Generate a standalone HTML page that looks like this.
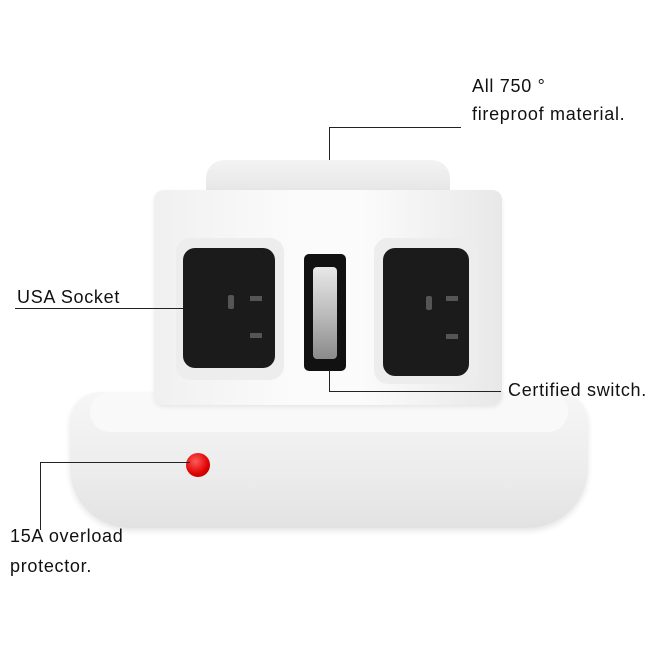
<!DOCTYPE html>
<html><head><meta charset="utf-8"><style>
body{margin:0;background:#fff;}
#c{position:relative;width:654px;height:653px;overflow:hidden;background:#fff;font-family:"Liberation Sans",sans-serif;}
.a{position:absolute;}
.t{position:absolute;font-size:18px;color:#111;letter-spacing:0.7px;white-space:nowrap;}
.l{position:absolute;background:#222;}
</style></head><body><div id="c">
<!-- base -->
<div class="a" style="left:70px;top:392px;width:518px;height:136px;border-radius:30px 30px 60px 60px;background:linear-gradient(#f6f6f6,#ececec 60%,#e2e2e2);box-shadow:0 3px 6px rgba(0,0,0,.1);"></div>
<div class="a" style="left:90px;top:392px;width:478px;height:40px;border-radius:30px;background:#f9f9f9;"></div>
<!-- cap -->
<div class="a" style="left:206px;top:160px;width:244px;height:40px;border-radius:18px 18px 4px 4px;background:linear-gradient(#f3f3f3,#e3e3e3);"></div>
<!-- cube -->
<div class="a" style="left:154px;top:190px;width:348px;height:215px;border-radius:10px;background:linear-gradient(90deg,#f0f0f0,#fbfbfb 40%,#fbfbfb 60%,#e8e8e8);box-shadow:0 2px 4px rgba(0,0,0,.08);"></div>
<div class="a" style="left:176px;top:238px;width:108px;height:142px;border-radius:14px;background:#ededed;"></div>
<div class="a" style="left:374px;top:238px;width:104px;height:146px;border-radius:14px;background:#ededed;"></div>
<!-- sockets -->
<div class="a" style="left:183px;top:248px;width:92px;height:120px;border-radius:12px;background:#1b1b1b;"></div>
<div class="a" style="left:228px;top:295px;width:6px;height:14px;background:#555;border-radius:2px;"></div>
<div class="a" style="left:250px;top:296px;width:12px;height:5px;background:#555;"></div>
<div class="a" style="left:250px;top:333px;width:12px;height:5px;background:#555;"></div>
<div class="a" style="left:383px;top:248px;width:86px;height:128px;border-radius:12px;background:#1b1b1b;"></div>
<div class="a" style="left:426px;top:296px;width:6px;height:14px;background:#555;border-radius:2px;"></div>
<div class="a" style="left:446px;top:296px;width:12px;height:5px;background:#555;"></div>
<div class="a" style="left:446px;top:334px;width:12px;height:5px;background:#555;"></div>
<!-- switch -->
<div class="a" style="left:304px;top:254px;width:42px;height:117px;border-radius:5px;background:#111;"></div>
<div class="a" style="left:313px;top:267px;width:24px;height:92px;border-radius:4px;background:linear-gradient(#e8e8e8,#bdbdbd 50%,#8a8a8a);"></div>
<!-- red button -->
<div class="a" style="left:186px;top:453px;width:24px;height:24px;border-radius:50%;background:radial-gradient(circle at 40% 35%,#ff5a5a,#d00 60%,#900);"></div>
<!-- lines -->
<div class="l" style="left:329px;top:127px;width:1px;height:33px;"></div>
<div class="l" style="left:329px;top:127px;width:132px;height:1px;"></div>
<div class="l" style="left:15px;top:308px;width:168px;height:1px;"></div>
<div class="l" style="left:329px;top:370px;width:1px;height:21px;"></div>
<div class="l" style="left:329px;top:391px;width:172px;height:1px;"></div>
<div class="l" style="left:40px;top:462px;width:1px;height:68px;"></div>
<div class="l" style="left:40px;top:462px;width:150px;height:1px;"></div>
<!-- text -->
<div class="t" style="left:472px;top:76px;">All 750 °</div>
<div class="t" style="left:472px;top:104px;">fireproof material.</div>
<div class="t" style="left:17px;top:287px;">USA Socket</div>
<div class="t" style="left:508px;top:380px;">Certified switch.</div>
<div class="t" style="left:10px;top:526px;">15A overload</div>
<div class="t" style="left:10px;top:556px;">protector.</div>
</div></body></html>
